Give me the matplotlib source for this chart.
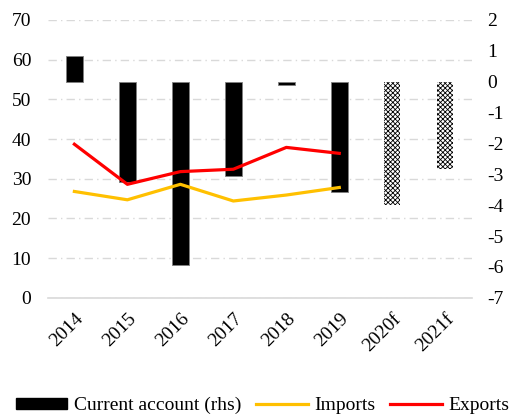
"""Current account, imports and exports chart."""

import matplotlib

matplotlib.use("Agg")
import matplotlib.pyplot as plt
import numpy as np
from matplotlib.lines import Line2D
from matplotlib.patches import Patch

years = ["2014", "2015", "2016", "2017", "2018", "2019", "2020f", "2021f"]
current_account = [0.82, -3.26, -5.92, -3.05, -0.12, -3.57, -4.0, -2.83]
forecast = [False, False, False, False, False, False, True, True]
imports = [26.8, 24.7, 28.6, 24.4, 25.9, 27.8]
exports = [38.7, 28.6, 31.8, 32.4, 37.9, 36.4]

plt.rcParams.update(
    {
        "font.family": ["Liberation Serif", "DejaVu Serif"],
        "font.size": 14,
        "hatch.linewidth": 0.6,
        "axes.unicode_minus": False,
    }
)

fig = plt.figure(figsize=(5.15, 4.16), dpi=100)
ax = fig.add_axes([0.093, 0.284, 0.823, 0.668])
x = np.arange(len(years))

# left scale: grid only
ax.set_ylim(0, 70)
ax.set_yticks(range(0, 71, 10))
ax.set_xlim(-0.5, len(years) - 0.5)
ax.yaxis.grid(True, color="#d9d9d9", lw=1.0, ls=(0, (6, 3, 1, 3)))
ax.set_axisbelow(True)
for side in ["top", "left", "right"]:
    ax.spines[side].set_visible(False)
ax.spines["bottom"].set_color("#d9d9d9")
ax.spines["bottom"].set_linewidth(1.2)
ax.tick_params(axis="y", length=0, pad=12)
ax.tick_params(axis="x", length=0, pad=9)
ax.set_xticks(x)
ax.set_xticklabels(years, rotation=45, ha="right", rotation_mode="anchor")

# right scale: current account bars
axr = ax.twinx()
axr.set_ylim(-7, 2)
axr.set_yticks(range(-7, 3))
axr.tick_params(axis="y", length=0, pad=11)
for side in ["top", "left", "right", "bottom"]:
    axr.spines[side].set_visible(False)
for xi, val, fc in zip(x, current_account, forecast):
    if fc:
        axr.bar(xi, val, width=0.31, color="white", edgecolor="black",
                hatch="xxxxxxx", linewidth=0)
    else:
        axr.bar(xi, val, width=0.31, color="black", edgecolor="#7f7f7f",
                linewidth=0.6)

# lines on top, left scale
axl = ax.twinx()
axl.set_ylim(0, 70)
axl.set_yticks([])
for side in ["top", "left", "right", "bottom"]:
    axl.spines[side].set_visible(False)
axl.plot(x[: len(imports)], imports, color="#FFC000", lw=2.3)
axl.plot(x[: len(exports)], exports, color="#FF0000", lw=2.3)

handles = [
    Patch(facecolor="black", edgecolor="black"),
    Line2D([0], [0], color="#FFC000", lw=2.3),
    Line2D([0], [0], color="#FF0000", lw=2.3),
]
fig.legend(
    handles,
    ["Current account (rhs)", "Imports", "Exports"],
    loc="lower left",
    bbox_to_anchor=(14 / 515, 0.0),
    ncol=3,
    frameon=False,
    borderpad=0.1,
    borderaxespad=0,
    handlelength=2.65,
    handleheight=0.5,
    handletextpad=0.35,
    columnspacing=0.75,
)

fig.savefig("out.png", dpi=100)
